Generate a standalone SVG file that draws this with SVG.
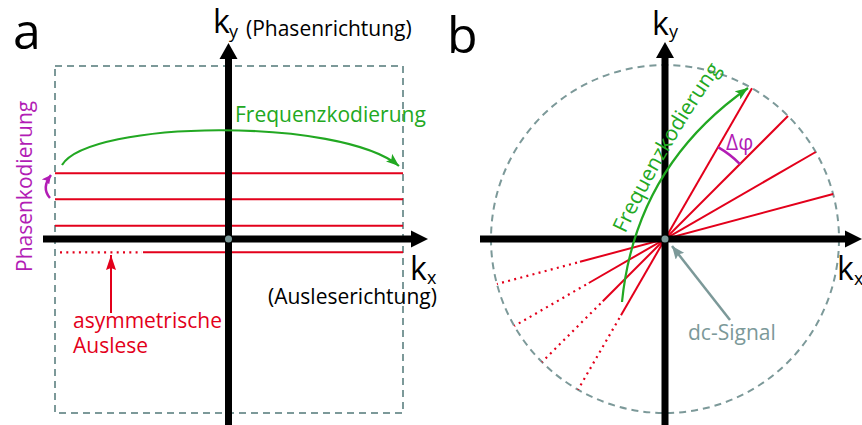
<svg xmlns="http://www.w3.org/2000/svg" width="862" height="425" viewBox="0 0 862 425">
<defs>
<style>
text{font-family:"Open Sans","Noto Sans","Liberation Sans",sans-serif}
.lbl{font-size:50px;fill:#000}
.k{font-size:32px;fill:#000}
.sub{font-size:18px;fill:#000}
.t{font-size:21px}
.axis{stroke:#000;stroke-width:7;fill:none}
.red{stroke:#e3001b;stroke-width:2;fill:none}
.dot{stroke:#e3001b;stroke-width:2.2;fill:none;stroke-dasharray:2 4.3}
.frame{stroke:#7c9999;stroke-width:2;fill:none;stroke-dasharray:7 5}
.grn{stroke:#22a822;stroke-width:2.2;fill:none}
.mag{stroke:#b21db5;stroke-width:2.5;fill:none}
</style>
<marker id="ag" markerUnits="userSpaceOnUse" markerWidth="14" markerHeight="10" refX="13" refY="5" orient="auto"><path d="M0,0 L13,5 L0,10 L3,5 z" fill="#22a822"/></marker>
<marker id="ar" markerUnits="userSpaceOnUse" markerWidth="16" markerHeight="10" refX="15" refY="5" orient="auto"><path d="M0,0 L15,5 L0,10 L2,5 z" fill="#e3001b"/></marker>
<marker id="am" markerUnits="userSpaceOnUse" markerWidth="10" markerHeight="9" refX="9" refY="4.5" orient="auto"><path d="M0,0 L9,4.5 L0,9 L2,4.5 z" fill="#b21db5"/></marker>
<marker id="ak" markerUnits="userSpaceOnUse" markerWidth="14" markerHeight="11" refX="13" refY="5.5" orient="auto"><path d="M0,0 L13,5.5 L0,11 L2.5,5.5 z" fill="#7c9999"/></marker>
</defs>

<g id="panel-a">
  <text class="lbl" x="13" y="49">a</text>
  <rect class="frame" x="55" y="66" width="348" height="347"/>
  <g id="a-lines">
    <line class="red" x1="55" y1="173.3" x2="403" y2="173.3"/>
    <line class="red" x1="55" y1="199.3" x2="403" y2="199.3"/>
    <line class="red" x1="55" y1="225.7" x2="403" y2="225.7"/>
    <line class="dot" x1="60" y1="252.3" x2="142" y2="252.3"/>
    <line class="red" x1="143" y1="252.3" x2="403" y2="252.3"/>
  </g>
  <g id="a-axes">
    <line class="axis" x1="228.5" y1="425" x2="228.5" y2="57"/>
    <polygon points="228.5,43 219.5,59 237.5,59" fill="#000"/>
    <line class="axis" x1="43" y1="239" x2="413" y2="239"/>
    <polygon points="428,239 411,230.5 411,247.5" fill="#000"/>
    <circle cx="228.5" cy="239" r="3.5" fill="#7c9999"/>
  </g>
  <g id="a-ky"><text class="k" x="213" y="33">k</text><text class="sub" x="229" y="38">y</text><text class="t" x="246" y="35.5" fill="#000">(Phasenrichtung)</text></g>
  <g id="a-kx"><text class="k" x="410" y="280">k</text><text class="sub" x="427" y="284">x</text><text class="t" x="268" y="304" fill="#000">(Ausleserichtung)</text></g>
  <g id="a-freq">
    <path class="grn" d="M62,165 C90,120 340,117 399,166" marker-end="url(#ag)"/>
    <text class="t" x="235" y="122" fill="#22a822">Frequenzkodierung</text>
  </g>
  <g id="a-phase">
    <path class="mag" d="M50,198 Q41,188 51,175" stroke-width="2" marker-end="url(#am)"/>
    <text class="t" transform="translate(32,272) rotate(-90)" fill="#b21db5" font-size="20.5">Phasenkodierung</text>
  </g>
  <g id="a-asym">
    <line class="red" x1="111" y1="313" x2="111" y2="255" marker-end="url(#ar)"/>
    <text class="t" x="73" y="328" fill="#e3001b" font-size="20.4">asymmetrische</text>
    <text class="t" x="73" y="353" fill="#e3001b" font-size="20.4">Auslese</text>
  </g>
</g>

<g id="panel-b">
  <text class="lbl" x="447" y="53">b</text>
  <circle class="frame" cx="665" cy="239" r="174" stroke-dasharray="10 6"/>
  <g id="b-rays">
    <line class="red" x1="833.1" y1="194.0" x2="580.0" y2="261.8"/>
    <line class="dot" x1="577" y1="262.6" x2="496.9" y2="284.0"/>
    <line class="red" x1="815.7" y1="152.0" x2="588.8" y2="283.0"/>
    <line class="dot" x1="586" y1="284.6" x2="514.3" y2="326.0"/>
    <line class="red" x1="788.0" y1="116.0" x2="602.8" y2="301.2"/>
    <line class="dot" x1="600.5" y1="303.5" x2="542.0" y2="362.0"/>
    <line class="red" x1="752.0" y1="88.3" x2="621.0" y2="315.2"/>
    <line class="dot" x1="619.4" y1="318" x2="578.0" y2="389.7"/>
  </g>
  <g id="b-axes">
    <line class="axis" x1="665" y1="425" x2="665" y2="56"/>
    <polygon points="665,42 656,58 674,58" fill="#000"/>
    <line class="axis" x1="480" y1="239" x2="847" y2="239"/>
    <polygon points="862,239 845,230.5 845,247.5" fill="#000"/>
    <circle cx="665" cy="239" r="3.5" fill="#7c9999"/>
  </g>
  <g id="b-ky"><text class="k" x="652" y="35">k</text><text class="sub" x="669" y="38">y</text></g>
  <g id="b-kx"><text class="k" x="837" y="280">k</text><text class="sub" x="854" y="285">x</text></g>
  <g id="b-dphi">
    <path class="mag" d="M718,147.2 A106,106 0 0 1 739.95,164.05"/>
    <text class="t" x="726" y="150" fill="#b21db5">Δφ</text>
  </g>
  <g id="b-freq">
    <path class="grn" d="M622,302 Q635.5,167 748,88" marker-end="url(#ag)"/>
    <path id="fpath" d="M620.6,243.7 Q665.4,147 727.3,60.3" fill="none"/>
    <text class="t" fill="#22a822"><textPath href="#fpath" startOffset="11">Frequenzkodierung</textPath></text>
  </g>
  <g id="b-dc">
    <line x1="730" y1="320" x2="672" y2="246" stroke="#7c9999" stroke-width="2.5" marker-end="url(#ak)"/>
    <text class="t" x="688" y="340" fill="#7c9999">dc-Signal</text>
  </g>
</g>
</svg>
